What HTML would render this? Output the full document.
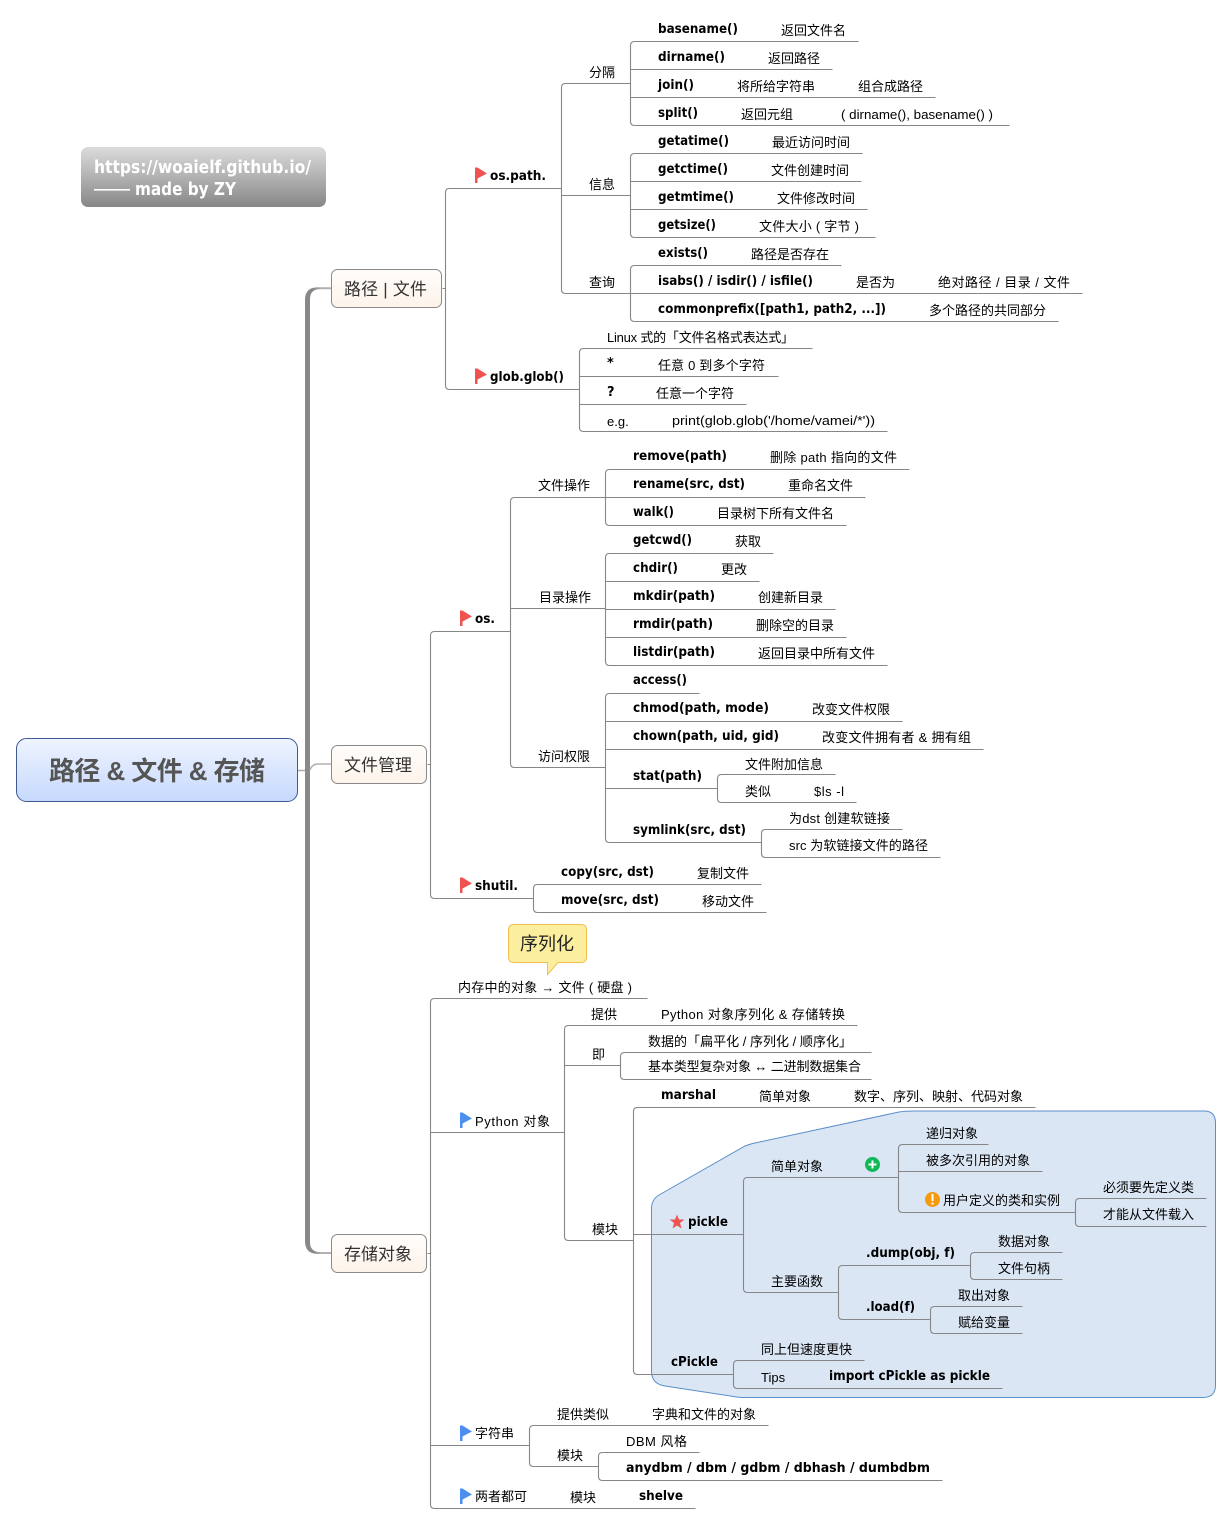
<!DOCTYPE html>
<html><head><meta charset="utf-8"><style>
html,body{margin:0;padding:0;background:#fff}
svg{display:block}
text{font-family:"Liberation Sans","Noto Sans CJK SC",sans-serif;font-size:13px;fill:#000}
.b{font-family:"DejaVu Sans","Noto Sans CJK SC",sans-serif;font-weight:bold;fill:#000;font-size:13px}
.t{font-size:17px;fill:#333;text-anchor:middle}
.l path{fill:none;stroke:#868686;stroke-width:1.1}
</style></head><body>
<svg width="1232" height="1524" viewBox="0 0 1232 1524" xmlns="http://www.w3.org/2000/svg">
<defs>
<linearGradient id="g1" x1="0" y1="0" x2="0" y2="1"><stop offset="0" stop-color="#eff4ff"/><stop offset="1" stop-color="#c6d9fd"/></linearGradient>
<linearGradient id="g2" x1="0" y1="0" x2="0" y2="1"><stop offset="0" stop-color="#dcdcdc"/><stop offset="1" stop-color="#878787"/></linearGradient>
<linearGradient id="g3" x1="0" y1="0" x2="0" y2="1"><stop offset="0" stop-color="#fffdfb"/><stop offset="1" stop-color="#fdf3ea"/></linearGradient>
<linearGradient id="tg" gradientUnits="userSpaceOnUse" x1="305" y1="0" x2="331" y2="0"><stop offset="0.3" stop-color="#888"/><stop offset="0.65" stop-color="#b2b2b2"/></linearGradient>
</defs>

<!-- boundary -->
<path d="M659 1195 L745 1146 Q750 1144 755 1143 L899 1112 Q905 1111 915 1111 H1204 Q1215 1111 1215.5 1122 V1386 Q1215 1397 1204 1397.5 H745 Q740 1397.5 737 1397 L665 1386 Q652 1384 651.5 1372 V1208 Q652 1199 659 1195 Z" fill="#dbe6f4" stroke="#5b8fcb" stroke-width="1"/>

<!-- trunk -->
<path d="M305 770.5 H298" stroke="#aaa" stroke-width="1.5" fill="none"/>
<path d="M331 287.300 H318 Q305 287.300 305 300 V1241 Q305 1254 318 1254 H331 V1252 H320 Q310 1252 310 1242 V299 Q310 289.300 320 289.300 H331 Z" fill="url(#tg)"/>
<path d="M310 770 Q312 764 318 764 H331" fill="none" stroke="#b2b2b2" stroke-width="1.6"/>

<g class="l" transform="translate(.5 .5)">
<!-- path / file -->
<path d="M442 288H445M561 188H449Q445 188 445 192V385Q445 389 449 389H579"/>
<path d="M630 83H565Q561 83 561 87V289Q561 293 565 293H630M561 195H630"/>
<path d="M858 41H634Q630 41 630 45V121Q630 125 634 125H1009M630 69H832M630 97H935"/>
<path d="M862 153H634Q630 153 630 157V233Q630 237 634 237H875M630 181H861M630 209H867"/>
<path d="M841 265H634Q630 265 630 269V317Q630 321 634 321H1058M630 293H1082"/>
<path d="M812 348H583Q579 348 579 352V427Q579 431 583 431H887M579 376H778M579 404H746"/>
<!-- file mgmt -->
<path d="M427 764H430M510 631H434Q430 631 430 635V894Q430 898 434 898H533"/>
<path d="M605 497H514Q510 497 510 501V763Q510 767 514 767H605M510 608H605"/>
<path d="M909 469H609Q605 469 605 473V521Q605 525 609 525H846M605 497H865"/>
<path d="M773 553H609Q605 553 605 557V661Q605 665 609 665H887M605 581H759M605 609H835M605 637H846"/>
<path d="M699 693H609Q605 693 605 697V838Q605 842 609 842H761M605 721H902M605 749H983M605 788H717"/>
<path d="M835 774H721Q717 774 717 778V798Q717 802 721 802H856"/>
<path d="M902 829H765Q761 829 761 833V853Q761 857 765 857H940"/>
<path d="M761 884H537Q533 884 533 888V908Q533 912 537 912H766"/>
<!-- storage -->
<path d="M427 1253H430M647 998H434Q430 998 430 1002V1504Q430 1508 434 1508H695M430 1132H564M430 1445H529"/>
<path d="M857 1025H568Q564 1025 564 1029V1236Q564 1240 568 1240H633M564 1065H620"/>
<path d="M871 1052H624Q620 1052 620 1056V1075Q620 1079 624 1079H871"/>
<path d="M1035 1107H637Q633 1107 633 1111V1370Q633 1374 637 1374H733M633 1234H743"/>
<path d="M898 1177H747Q743 1177 743 1181V1288Q743 1292 747 1292H838"/>
<path d="M988 1144H902Q898 1144 898 1148V1208Q898 1212 902 1212H1075M898 1171H1042"/>
<path d="M1206 1198H1079Q1075 1198 1075 1202V1222Q1075 1226 1079 1226H1206"/>
<path d="M970 1265H842Q838 1265 838 1269V1315Q838 1319 842 1319H930"/>
<path d="M1062 1252H974Q970 1252 970 1256V1275Q970 1279 974 1279H1062"/>
<path d="M1022 1306H934Q930 1306 930 1310V1329Q930 1333 934 1333H1022"/>
<path d="M864 1360H737Q733 1360 733 1364V1384Q733 1388 737 1388H1002"/>
<path d="M768 1425H533Q529 1425 529 1429V1462Q529 1466 533 1466H598"/>
<path d="M699 1452H602Q598 1452 598 1456V1476Q598 1480 602 1480H942"/>
</g>

<!-- title -->
<rect x="16.5" y="738.5" width="281" height="63" rx="10" fill="url(#g1)" stroke="#3d5a92"/>
<text x="49" y="780" textLength="216" style="font-size:26px;font-weight:bold;fill:#555">路径 &amp; 文件 &amp; 存储</text>

<!-- note -->
<rect x="81" y="147" width="245" height="60" rx="7" fill="url(#g2)"/>
<text class="b" x="94" y="173" textLength="217" lengthAdjust="spacingAndGlyphs" style="font-size:18px;fill:#fff">https://woaielf.github.io/</text>
<text class="b" x="135" y="195" textLength="101" lengthAdjust="spacingAndGlyphs" style="font-size:18px;fill:#fff">made by ZY</text>
<rect x="94" y="189" width="36" height="1.6" fill="#fff"/>

<!-- branch boxes -->
<rect x="331.5" y="269.5" width="110" height="38" rx="6" fill="url(#g3)" stroke="#8a8a8a"/>
<text class="t" x="385.500" y="295" textLength="83">路径 | 文件</text>
<rect x="331.5" y="745.5" width="95" height="38" rx="6" fill="url(#g3)" stroke="#8a8a8a"/>
<text class="t" x="378" y="771">文件管理</text>
<rect x="331.5" y="1234.5" width="95" height="38" rx="6" fill="url(#g3)" stroke="#8a8a8a"/>
<text class="t" x="378" y="1260">存储对象</text>

<!-- callout -->
<path d="M514 924.5H581Q586.500 924.500 586.500 930V957Q586.500 962.500 581 962.500H558L547.500 974.500V962.500H514Q508.500 962.500 508.500 957V930Q508.500 924.500 514 924.500Z" fill="#fbef9f" stroke="#f0c04e"/>
<text x="520" y="950" style="font-size:18px;fill:#222">序列化</text>

<!-- flags -->
<g>
<path d="M475 167.500H477.500L487 173.500L477.500 178.500V183H475Z" fill="#ef5350"/>
<path d="M475 368.500H477.500L487 374.500L477.500 379.500V384H475Z" fill="#ef5350"/>
<path d="M460 610.500H462.500L472 616.500L462.500 621.500V626H460Z" fill="#ef5350"/>
<path d="M460 877.500H462.500L472 883.500L462.500 888.500V893H460Z" fill="#ef5350"/>
<path d="M460 1112.500H462.500L472 1118.500L462.500 1123.500V1128H460Z" fill="#4d8ff0"/>
<path d="M460 1425.500H462.500L472 1431.500L462.500 1436.500V1441H460Z" fill="#4d8ff0"/>
<path d="M460 1488.500H462.500L472 1494.500L462.500 1499.500V1504H460Z" fill="#4d8ff0"/>
</g>
<!-- icons -->
<circle cx="872.500" cy="1164.500" r="7.500" fill="#10b858"/>
<path d="M868.500 1164.500H876.500M872.500 1160.500V1168.500" stroke="#fff" stroke-width="2"/>
<circle cx="932.500" cy="1199.500" r="7.500" fill="#f59a0c"/>
<rect x="931.500" y="1194" width="2" height="7" fill="#fff"/><rect x="931.500" y="1202.500" width="2" height="2" fill="#fff"/>
<path d="M677 1214.500L679 1219.500H684.500L680 1223L681.500 1228.500L677 1225.500L672.500 1228.500L674 1223L669.500 1219.500H675Z" fill="#ef5350"/>

<!-- os.path -->
<text class="b" x="658" y="33" textLength="80" lengthAdjust="spacingAndGlyphs">basename()</text><text x="781" y="35">返回文件名</text>
<text class="b" x="658" y="61" textLength="67" lengthAdjust="spacingAndGlyphs">dirname()</text><text x="768" y="63">返回路径</text>
<text class="b" x="658" y="89" textLength="36" lengthAdjust="spacingAndGlyphs">join()</text><text x="737" y="91">将所给字符串</text><text x="858" y="91">组合成路径</text>
<text class="b" x="658" y="117" textLength="40" lengthAdjust="spacingAndGlyphs">split()</text><text x="741" y="119">返回元组</text><text x="841" y="119" textLength="152" lengthAdjust="spacingAndGlyphs">( dirname(), basename() )</text>
<text class="b" x="658" y="145" textLength="71" lengthAdjust="spacingAndGlyphs">getatime()</text><text x="772" y="147">最近访问时间</text>
<text class="b" x="658" y="173" textLength="70" lengthAdjust="spacingAndGlyphs">getctime()</text><text x="771" y="175">文件创建时间</text>
<text class="b" x="658" y="201" textLength="76" lengthAdjust="spacingAndGlyphs">getmtime()</text><text x="777" y="203">文件修改时间</text>
<text class="b" x="658" y="229" textLength="58" lengthAdjust="spacingAndGlyphs">getsize()</text><text x="759" y="231" textLength="100">文件大小 ( 字节 )</text>
<text class="b" x="658" y="257" textLength="50" lengthAdjust="spacingAndGlyphs">exists()</text><text x="751" y="259">路径是否存在</text>
<text class="b" x="658" y="285" textLength="155" lengthAdjust="spacingAndGlyphs">isabs() / isdir() / isfile()</text><text x="856" y="287">是否为</text><text x="938" y="287" textLength="132">绝对路径 / 目录 / 文件</text>
<text class="b" x="658" y="313" textLength="228" lengthAdjust="spacingAndGlyphs">commonprefix([path1, path2, ...])</text><text x="929" y="315">多个路径的共同部分</text>
<text x="589" y="77">分隔</text><text x="589" y="189">信息</text><text x="589" y="287">查询</text>
<text class="b" x="490" y="180" textLength="56" lengthAdjust="spacingAndGlyphs">os.path.</text>
<text class="b" x="490" y="381" textLength="74" lengthAdjust="spacingAndGlyphs">glob.glob()</text>
<text x="607" y="342" textLength="187">Linux 式的「文件名格式表达式」</text>
<text class="b" x="607" y="367">*</text><text x="658" y="370" textLength="107">任意 0 到多个字符</text>
<text class="b" x="607" y="396">?</text><text x="656" y="398">任意一个字符</text>
<text x="607" y="426">e.g.</text><text x="672" y="425" textLength="203" lengthAdjust="spacingAndGlyphs">print(glob.glob('/home/vamei/*'))</text>

<!-- os -->
<text class="b" x="475" y="623" textLength="20" lengthAdjust="spacingAndGlyphs">os.</text>
<text class="b" x="475" y="890" textLength="43" lengthAdjust="spacingAndGlyphs">shutil.</text>
<text x="538" y="490">文件操作</text><text x="539" y="602">目录操作</text><text x="538" y="761">访问权限</text>
<text class="b" x="633" y="460" textLength="94" lengthAdjust="spacingAndGlyphs">remove(path)</text><text x="770" y="462" textLength="127">删除 path 指向的文件</text>
<text class="b" x="633" y="488" textLength="112" lengthAdjust="spacingAndGlyphs">rename(src, dst)</text><text x="788" y="490">重命名文件</text>
<text class="b" x="633" y="516" textLength="41" lengthAdjust="spacingAndGlyphs">walk()</text><text x="717" y="518">目录树下所有文件名</text>
<text class="b" x="633" y="544" textLength="59" lengthAdjust="spacingAndGlyphs">getcwd()</text><text x="735" y="546">获取</text>
<text class="b" x="633" y="572" textLength="45" lengthAdjust="spacingAndGlyphs">chdir()</text><text x="721" y="574">更改</text>
<text class="b" x="633" y="600" textLength="82" lengthAdjust="spacingAndGlyphs">mkdir(path)</text><text x="758" y="602">创建新目录</text>
<text class="b" x="633" y="628" textLength="80" lengthAdjust="spacingAndGlyphs">rmdir(path)</text><text x="756" y="630">删除空的目录</text>
<text class="b" x="633" y="656" textLength="82" lengthAdjust="spacingAndGlyphs">listdir(path)</text><text x="758" y="658">返回目录中所有文件</text>
<text class="b" x="633" y="684" textLength="54" lengthAdjust="spacingAndGlyphs">access()</text>
<text class="b" x="633" y="712" textLength="136" lengthAdjust="spacingAndGlyphs">chmod(path, mode)</text><text x="812" y="714">改变文件权限</text>
<text class="b" x="633" y="740" textLength="146" lengthAdjust="spacingAndGlyphs">chown(path, uid, gid)</text><text x="822" y="742" textLength="149">改变文件拥有者 &amp; 拥有组</text>
<text class="b" x="633" y="780" textLength="69" lengthAdjust="spacingAndGlyphs">stat(path)</text>
<text x="745" y="769">文件附加信息</text><text x="745" y="796">类似</text><text x="814" y="796" textLength="30">$ls -l</text>
<text class="b" x="633" y="834" textLength="113" lengthAdjust="spacingAndGlyphs">symlink(src, dst)</text>
<text x="789" y="823" textLength="101">为dst 创建软链接</text><text x="789" y="850" textLength="139">src 为软链接文件的路径</text>
<text class="b" x="561" y="876" textLength="93" lengthAdjust="spacingAndGlyphs">copy(src, dst)</text><text x="697" y="878">复制文件</text>
<text class="b" x="561" y="904" textLength="98" lengthAdjust="spacingAndGlyphs">move(src, dst)</text><text x="702" y="906">移动文件</text>

<!-- storage -->
<text x="458" y="992" textLength="174">内存中的对象 → 文件 ( 硬盘 )</text>
<text x="591" y="1019">提供</text><text x="661" y="1019" textLength="184">Python 对象序列化 &amp; 存储转换</text>
<text x="592" y="1059">即</text><text x="648" y="1046" textLength="204">数据的「扁平化 / 序列化 / 顺序化」</text><text x="648" y="1071" textLength="213">基本类型复杂对象 ↔ 二进制数据集合</text>
<text x="592" y="1234">模块</text>
<text x="475" y="1126" textLength="75">Python 对象</text>
<text class="b" x="661" y="1099" textLength="55" lengthAdjust="spacingAndGlyphs">marshal</text><text x="759" y="1101">简单对象</text><text x="854" y="1101">数字、序列、映射、代码对象</text>
<text x="926" y="1138">递归对象</text><text x="926" y="1165">被多次引用的对象</text><text x="943" y="1205">用户定义的类和实例</text>
<text x="1103" y="1192">必须要先定义类</text><text x="1103" y="1219">才能从文件载入</text>
<text x="771" y="1171">简单对象</text><text x="771" y="1286">主要函数</text>
<text class="b" x="688" y="1226" textLength="40" lengthAdjust="spacingAndGlyphs">pickle</text>
<text class="b" x="866" y="1257" textLength="89" lengthAdjust="spacingAndGlyphs">.dump(obj, f)</text>
<text class="b" x="866" y="1311" textLength="49" lengthAdjust="spacingAndGlyphs">.load(f)</text>
<text x="998" y="1246">数据对象</text><text x="998" y="1273">文件句柄</text><text x="958" y="1300">取出对象</text><text x="958" y="1327">赋给变量</text>
<text class="b" x="671" y="1366" textLength="47" lengthAdjust="spacingAndGlyphs">cPickle</text>
<text x="761" y="1354">同上但速度更快</text><text x="761" y="1382">Tips</text>
<text class="b" x="829" y="1380" textLength="161" lengthAdjust="spacingAndGlyphs">import cPickle as pickle</text>
<text x="475" y="1438">字符串</text>
<text x="557" y="1419">提供类似</text><text x="652" y="1419">字典和文件的对象</text>
<text x="557" y="1460">模块</text>
<text x="626" y="1446" textLength="61">DBM 风格</text>
<text class="b" x="626" y="1472" textLength="304" lengthAdjust="spacingAndGlyphs">anydbm / dbm / gdbm / dbhash / dumbdbm</text>
<text x="475" y="1501">两者都可</text><text x="570" y="1502">模块</text>
<text class="b" x="639" y="1500" textLength="44" lengthAdjust="spacingAndGlyphs">shelve</text>
</svg>
</body></html>
